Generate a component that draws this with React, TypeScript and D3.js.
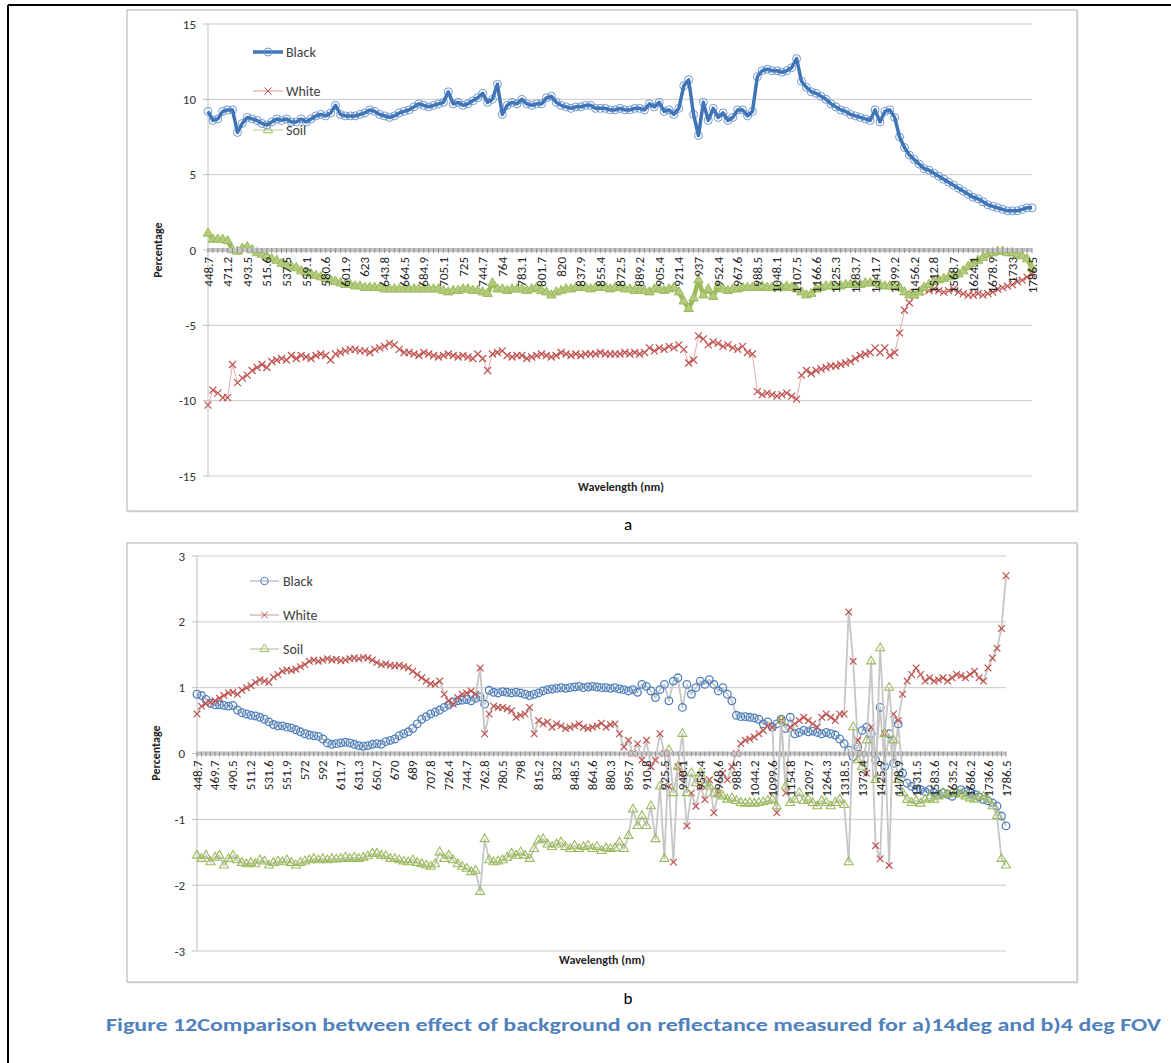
import React, { useEffect, useRef } from 'react';
import * as d3 from 'd3';

const labelsA = ["448.7","471.2","493.5","515.6","537.5","559.1","580.6","601.9","623","643.8","664.5","684.9","705.1","725","744.7","764","783.1","801.7","820","837.9","855.4","872.5","889.2","905.4","921.4","937","952.4","967.6","988.5","1048.1","1107.5","1166.6","1225.3","1283.7","1341.7","1399.2","1456.2","1512.8","1568.7","1624.1","1678.9","1733","1786.5"];

const blackA = [
  9.2, 8.6, 8.7, 9.2,
  9.3, 9.3, 7.8, 8.4,
  8.8, 8.7, 8.6, 8.4,
  8.3, 8.5, 8.7, 8.6,
  8.7, 8.5, 8.5, 8.7,
  8.5, 8.7, 8.9, 9.0,
  8.9, 9.1, 9.6, 9.0,
  8.9, 8.9, 8.9, 9.0,
  9.1, 9.3, 9.2, 9.0,
  8.9, 8.8, 8.9, 9.1,
  9.2, 9.3, 9.5, 9.7,
  9.6, 9.5, 9.6, 9.7,
  9.8, 10.5, 9.7, 9.8,
  9.6, 9.7, 9.9, 10.1,
  10.4, 9.8, 10.0, 11.0,
  9.0, 9.6, 9.8, 9.7,
  10.0, 9.7, 9.6, 9.7,
  9.7, 10.1, 10.2, 9.8,
  9.6, 9.5, 9.4, 9.5,
  9.5, 9.6, 9.6, 9.4,
  9.4, 9.4, 9.3, 9.3,
  9.4, 9.3, 9.3, 9.4,
  9.4, 9.3, 9.7, 9.5,
  9.8, 9.2, 9.3, 9.0,
  9.4, 10.9, 11.3, 9.0,
  7.6, 9.8, 8.6, 9.4,
  8.8, 9.1, 8.6, 8.8,
  9.3, 9.3, 8.9, 9.2,
  11.5, 11.9, 12.0, 11.9,
  11.9, 11.8, 11.9, 12.1,
  12.7, 11.2, 10.8, 10.5,
  10.4, 10.2, 10.0, 9.7,
  9.5, 9.3, 9.2, 9.0,
  8.9, 8.8, 8.7, 8.6,
  9.3, 8.5, 9.2, 9.3,
  8.8, 7.5, 6.8, 6.3,
  6.0, 5.7, 5.4, 5.3,
  5.1, 4.9, 4.7, 4.5,
  4.3, 4.1, 3.9, 3.7,
  3.5, 3.4, 3.2, 3.0,
  2.9, 2.8, 2.7, 2.6,
  2.6, 2.6, 2.7, 2.8,
  2.8
];

const whiteA = [
  -10.3, -9.3, -9.5, -9.8,
  -9.8, -7.6, -8.8, -8.5,
  -8.3, -8.0, -7.8, -7.6,
  -7.8, -7.4, -7.3, -7.2,
  -7.3, -7.0, -7.2, -7.0,
  -7.1, -7.2, -7.0, -6.9,
  -7.0, -7.3, -6.9, -6.8,
  -6.7, -6.6, -6.6, -6.7,
  -6.7, -6.8, -6.6, -6.5,
  -6.4, -6.2, -6.3, -6.6,
  -6.8, -6.8, -6.9, -7.0,
  -6.8, -6.9, -7.0, -7.1,
  -7.0, -6.9, -7.0, -7.1,
  -7.0, -7.1, -7.2, -6.9,
  -7.2, -8.0, -6.9, -6.8,
  -6.7, -7.0, -7.1, -7.0,
  -7.0, -7.2, -7.1, -7.0,
  -6.9, -7.0, -7.1, -7.0,
  -6.8, -6.9, -7.0, -6.9,
  -7.0, -6.9, -6.9, -6.9,
  -6.8, -6.9, -6.9, -6.9,
  -6.9, -6.8, -6.9, -6.8,
  -6.9, -6.8, -6.5, -6.7,
  -6.5, -6.6, -6.4, -6.5,
  -6.3, -6.6, -7.5, -7.3,
  -5.7, -5.9, -6.3, -6.1,
  -6.2, -6.4, -6.3, -6.5,
  -6.6, -6.4, -6.8, -6.9,
  -9.4, -9.6, -9.5, -9.6,
  -9.7, -9.6, -9.5, -9.7,
  -9.9, -8.3, -8.0, -8.2,
  -8.0, -7.9, -7.8, -7.7,
  -7.7, -7.6, -7.5, -7.4,
  -7.2, -7.0, -6.9, -6.8,
  -6.5, -6.8, -6.5, -7.0,
  -6.8, -5.5, -4.0, -3.5,
  -3.0, -2.8, -2.6, -2.7,
  -2.6, -2.7, -2.8, -2.7,
  -2.6, -2.8, -2.9, -3.0,
  -3.0, -2.9, -3.0, -2.9,
  -2.8, -2.6, -2.5, -2.4,
  -2.3, -2.1, -2.0, -1.8,
  -1.6
];

const soilA = [
  1.1, 0.7, 0.7, 0.7,
  0.6, 0.0, -0.1, 0.1,
  0.2, 0.0, -0.2, -0.3,
  -0.4, -0.6, -0.7, -0.9,
  -1.0, -1.1, -1.2, -1.4,
  -1.5, -1.6, -1.7, -1.8,
  -1.9, -2.0, -2.1, -2.2,
  -2.3, -2.3, -2.4, -2.4,
  -2.5, -2.5, -2.5, -2.5,
  -2.6, -2.6, -2.6, -2.6,
  -2.6, -2.6, -2.6, -2.6,
  -2.6, -2.6, -2.6, -2.6,
  -2.7, -2.8, -2.7, -2.7,
  -2.6, -2.6, -2.7, -2.7,
  -2.8, -2.9, -2.2, -2.6,
  -2.6, -2.7, -2.6, -2.6,
  -2.6, -2.7, -2.6, -2.5,
  -2.7, -2.8, -3.0, -2.8,
  -2.7, -2.6, -2.6, -2.5,
  -2.5, -2.5, -2.6, -2.5,
  -2.5, -2.5, -2.6, -2.5,
  -2.5, -2.6, -2.6, -2.7,
  -2.6, -2.7, -2.8, -2.6,
  -2.6, -2.7, -2.6, -2.5,
  -2.8, -3.4, -3.9, -3.2,
  -2.0, -3.0, -2.6, -3.1,
  -2.4, -2.6, -2.7, -2.6,
  -2.6, -2.5, -2.5, -2.5,
  -2.5, -2.4, -2.5, -2.5,
  -2.5, -2.5, -2.4, -2.5,
  -2.6, -2.8, -3.0, -2.9,
  -2.6, -2.5, -2.4, -2.4,
  -2.4, -2.4, -2.3, -2.3,
  -2.3, -2.3, -2.2, -2.2,
  -2.2, -2.3, -2.4, -2.4,
  -2.4, -2.5, -2.8, -3.0,
  -3.0, -2.8, -2.5, -2.3,
  -2.1, -2.0, -1.9, -1.8,
  -1.7, -1.6, -1.4, -1.1,
  -0.9, -0.7, -0.5, -0.3,
  -0.2, -0.1, -0.1, -0.2,
  -0.2, -0.3, -0.4, -0.6,
  -1.2
];

const labelsB = ["448.7","469.7","490.5","511.2","531.6","551.9","572","592","611.7","631.3","650.7","670","689","707.8","726.4","744.7","762.8","780.5","798","815.2","832","848.5","864.6","880.3","895.7","910.8","925.5","940.1","954.4","968.6","988.5","1044.2","1099.6","1154.8","1209.7","1264.3","1318.5","1372.4","1425.9","1478.9","1531.5","1583.6","1635.2","1686.2","1736.6","1786.5"];

const blackB = [
  0.9, 0.88, 0.82, 0.76,
  0.74, 0.74, 0.73, 0.72,
  0.73, 0.66, 0.62, 0.6,
  0.58, 0.57, 0.55, 0.52,
  0.48, 0.44, 0.42, 0.42,
  0.4, 0.39, 0.36, 0.33,
  0.3, 0.28, 0.27, 0.26,
  0.22, 0.16, 0.14, 0.15,
  0.16, 0.17, 0.16, 0.14,
  0.12, 0.11, 0.12, 0.14,
  0.15, 0.14, 0.18, 0.2,
  0.22, 0.27, 0.3, 0.33,
  0.38, 0.45, 0.52, 0.56,
  0.6, 0.63, 0.66, 0.7,
  0.74, 0.78, 0.8, 0.81,
  0.82, 0.8, 0.84, 0.86,
  0.75, 0.96, 0.93, 0.92,
  0.94, 0.93, 0.92, 0.93,
  0.92, 0.9, 0.88, 0.9,
  0.92, 0.95, 0.97, 0.98,
  0.99, 1.0, 0.99, 1.0,
  1.01, 1.02, 1.0, 1.01,
  1.02, 1.01, 1.0, 1.0,
  0.99, 1.0, 0.98, 0.97,
  0.95, 0.97, 0.93, 1.05,
  1.02, 0.95, 0.85, 0.97,
  1.05, 0.8, 1.1, 1.15,
  0.7, 1.05, 0.9, 1.0,
  1.1, 1.05, 1.12, 1.05,
  0.95, 1.0, 0.9, 0.8,
  0.58, 0.56, 0.56, 0.55,
  0.54, 0.52, 0.45, 0.48,
  0.4, 0.45, 0.52, 0.38,
  0.55, 0.3, 0.32, 0.35,
  0.33, 0.34, 0.32, 0.3,
  0.32, 0.3, 0.28, 0.22,
  0.15, 0.05, -0.05, 0.1,
  0.35, 0.4, 0.3, -0.1,
  0.7, -0.2, 0.3, -0.15,
  0.45, -0.3, -0.45, -0.5,
  -0.55, -0.55, -0.58, -0.55,
  -0.6, -0.62, -0.6, -0.62,
  -0.65, -0.6, -0.55, -0.58,
  -0.6, -0.62, -0.66, -0.7,
  -0.72, -0.75, -0.8, -0.95,
  -1.1
];

const whiteB = [
  0.6, 0.72, 0.76, 0.78,
  0.8, 0.84, 0.88, 0.92,
  0.93, 0.9, 0.96, 1.0,
  1.03, 1.08, 1.12, 1.1,
  1.08, 1.16, 1.2, 1.25,
  1.27, 1.26, 1.28, 1.32,
  1.35, 1.4, 1.42, 1.4,
  1.42, 1.44, 1.42, 1.43,
  1.41, 1.42, 1.44, 1.45,
  1.44, 1.46, 1.45, 1.42,
  1.38, 1.35, 1.36, 1.34,
  1.33, 1.34, 1.32, 1.3,
  1.25, 1.2, 1.15, 1.1,
  1.06, 1.05, 1.1, 0.9,
  0.8, 0.75, 0.85, 0.9,
  0.92, 0.95, 0.9, 1.3,
  0.3, 0.6, 0.72, 0.7,
  0.7, 0.68, 0.65, 0.55,
  0.58, 0.6, 0.7, 0.3,
  0.5, 0.45, 0.48, 0.4,
  0.45, 0.42, 0.38, 0.4,
  0.42, 0.45, 0.4, 0.38,
  0.4, 0.42, 0.46, 0.4,
  0.44, 0.45, 0.3, 0.1,
  0.2, 0.0, 0.15, -0.1,
  0.2, -0.2, -0.1, 0.3,
  0.0, -0.5, -1.65, -0.2,
  -0.3, -1.1, -0.6, -0.8,
  -0.5, -0.7, -0.4, -0.9,
  -0.6, -0.3, -0.4, -0.2,
  0.0, 0.15, 0.2, 0.22,
  0.25, 0.3, 0.35, 0.42,
  0.4, -0.9, 0.5, -0.6,
  0.4, 0.45, 0.5, 0.55,
  0.5, 0.45, 0.4, 0.55,
  0.6, 0.55, 0.5, 0.6,
  0.6, 2.15, 1.4, 0.2,
  0.0, -0.3, 0.4, -1.4,
  -1.6, 0.3, -1.7, 0.6,
  0.5, 0.9, 1.1, 1.2,
  1.3, 1.2, 1.1, 1.15,
  1.1, 1.12, 1.15, 1.1,
  1.15, 1.2, 1.18, 1.15,
  1.2, 1.25, 1.15, 1.1,
  1.3, 1.45, 1.6, 1.9,
  2.7
];

const soilB = [
  -1.55, -1.6, -1.55, -1.65,
  -1.58, -1.55, -1.7, -1.6,
  -1.55, -1.62, -1.66, -1.68,
  -1.66, -1.68, -1.62, -1.64,
  -1.7, -1.66, -1.64, -1.65,
  -1.62, -1.66, -1.7, -1.66,
  -1.64, -1.62, -1.6, -1.62,
  -1.6, -1.62, -1.6, -1.61,
  -1.6, -1.58, -1.6, -1.58,
  -1.6, -1.58, -1.56, -1.52,
  -1.52, -1.55, -1.56, -1.6,
  -1.6, -1.62, -1.64, -1.65,
  -1.62, -1.66, -1.68, -1.7,
  -1.72, -1.68, -1.5, -1.6,
  -1.55, -1.62, -1.68, -1.72,
  -1.75, -1.8, -1.78, -2.1,
  -1.3, -1.62, -1.65, -1.64,
  -1.62, -1.58, -1.52, -1.55,
  -1.5, -1.55, -1.6, -1.45,
  -1.32, -1.3, -1.38, -1.42,
  -1.38, -1.35, -1.42, -1.45,
  -1.4, -1.45, -1.42, -1.4,
  -1.45, -1.42, -1.48, -1.44,
  -1.45, -1.44, -1.35, -1.45,
  -1.25, -0.85, -1.1, -0.95,
  -1.1, -0.8, -1.3, -0.5,
  -1.6, 0.05, -0.6, -0.2,
  0.3, -0.6, -0.3, -0.45,
  -0.3, -0.45, -0.5, -0.6,
  -0.62, -0.65, -0.7, -0.68,
  -0.72, -0.75, -0.76, -0.75,
  -0.76, -0.75, -0.74, -0.72,
  -0.7, -0.8, 0.5, -0.5,
  -0.75, -0.7, -0.6, -0.72,
  -0.7, -0.75, -0.8, -0.72,
  -0.75, -0.8, -0.75, -0.7,
  -0.78, -1.65, 0.4, -0.1,
  -0.2, 0.2, 1.4, -0.4,
  1.6, 0.3, 1.0, 0.2,
  -0.4, -0.6, -0.7, -0.75,
  -0.72, -0.76, -0.7, -0.68,
  -0.7, -0.65, -0.6, -0.62,
  -0.6, -0.58, -0.62, -0.65,
  -0.68, -0.7, -0.65, -0.66,
  -0.7, -0.8, -0.95, -1.6,
  -1.7
];

const seriesNames = ["Black", "White", "Soil"];
const captionText = "Figure 12Comparison between effect of  background on reflectance measured for a)14deg and b)4 deg FOV";

const FONT = "Carlito, Calibri, 'Liberation Sans Narrow', 'Liberation Sans', Arial, sans-serif";
const BLUE = "#4f81bd";
const RED = "#c0504d";
const GREEN = "#9bbb59";

type Cfg = {
  frame: [number, number, number, number];
  plot: { l: number; r: number; t: number; b: number };
  domain: [number, number];
  step: number;
  labels: string[];
  data: number[][];
  legend: { x0: number; x1: number; tx: number; ys: number[] };
  yTitle: [number, number];
  xTitle: [number, number];
  variant: 'a' | 'b';
};

function drawMarker(g: any, kind: string, x: number, y: number, stroke: string, fill: string, r: number, sw: number) {
  if (kind === 'circle') {
    g.append('circle').attr('cx', x).attr('cy', y).attr('r', r)
      .attr('fill', fill).attr('stroke', stroke).attr('stroke-width', sw);
  } else if (kind === 'cross') {
    const s = r;
    g.append('path').attr('d', `M${x - s},${y - s}L${x + s},${y + s}M${x - s},${y + s}L${x + s},${y - s}`)
      .attr('stroke', stroke).attr('stroke-width', sw).attr('fill', 'none');
  } else {
    g.append('path').attr('d', d3.symbol(d3.symbolTriangle, r * r * 3)() as string)
      .attr('transform', `translate(${x},${y})`)
      .attr('fill', fill).attr('stroke', stroke).attr('stroke-width', sw);
  }
}

function drawChart(svg: any, c: Cfg) {
  const g = svg.append('g');
  const [fx0, fy0, fx1, fy1] = c.frame;
  g.append('rect').attr('x', fx0 + 1.5).attr('y', fy0 + 1.5).attr('width', fx1 - fx0).attr('height', fy1 - fy0)
    .attr('fill', '#e4e4e4');
  g.append('rect').attr('x', fx0).attr('y', fy0).attr('width', fx1 - fx0).attr('height', fy1 - fy0)
    .attr('fill', '#fff').attr('stroke', '#bcbcbc').attr('stroke-width', 1.2);

  const { l, r, t, b } = c.plot;
  const n = c.data[0].length;
  const x = d3.scaleLinear().domain([0, n - 1]).range([l, r]);
  const y = d3.scaleLinear().domain(c.domain).range([b, t]);
  const ticks = d3.range(c.domain[0], c.domain[1] + c.step / 2, c.step);

  g.selectAll('.grid').data(ticks).enter().append('line')
    .attr('x1', l).attr('x2', r).attr('y1', (d: number) => y(d)).attr('y2', (d: number) => y(d))
    .attr('stroke', '#c9c9c9').attr('stroke-width', 1);
  g.append('line').attr('x1', l).attr('x2', l).attr('y1', t).attr('y2', b).attr('stroke', '#bfbfbf');
  g.selectAll('.yt').data(ticks).enter().append('line')
    .attr('x1', l - 5).attr('x2', l).attr('y1', (d: number) => y(d)).attr('y2', (d: number) => y(d))
    .attr('stroke', '#bfbfbf');
  g.selectAll('.yl').data(ticks).enter().append('text')
    .attr('x', l - 12).attr('y', (d: number) => y(d)).attr('text-anchor', 'end')
    .attr('dominant-baseline', 'central').attr('font-family', FONT).attr('font-size', 13)
    .attr('fill', '#333').text((d: number) => String(Math.round(d)));

  g.append('text').attr('transform', `translate(${c.yTitle[0]},${c.yTitle[1]}) rotate(-90)`)
    .attr('text-anchor', 'middle').attr('font-family', FONT).attr('font-size', 12).attr('font-weight', 'bold')
    .attr('fill', '#222').text('Percentage');
  g.append('text').attr('x', c.xTitle[0]).attr('y', c.xTitle[1]).attr('text-anchor', 'middle')
    .attr('font-family', FONT).attr('font-size', 12).attr('font-weight', 'bold').attr('fill', '#222')
    .text('Wavelength (nm)');

  const kinds = ['circle', 'cross', 'triangle'];
  const isA = c.variant === 'a';
  const markerStroke = isA ? ['#7099cf', RED, GREEN] : [BLUE, RED, GREEN];
  const fills = isA ? ['none', 'none', '#b3cb7f'] : ['none', 'none', 'none'];
  const sizes = isA ? [4, 3.5, 3.6] : [3.8, 3.3, 3.4];
  const sws = isA ? [1, 1.2, 1] : [1.3, 1.2, 1.1];
  const lineColors = isA ? ['#3f74b8', '#e3aaa9', GREEN] : ['#c6c6c6', '#c6c6c6', '#c6c6c6'];
  const lineWidths = isA ? [3.5, 1, 4.5] : [1.8, 1.8, 1.8];
  const legLineColors = isA ? ['#3f74b8', '#e3aaa9', '#c3d69b'] : ['#b8c4d4', '#d6bcbc', '#c8d2b4'];
  const legLineWidths = isA ? [3.5, 1.2, 1.2] : [1.5, 1.5, 1.5];

  const lg = g.append('g');
  seriesNames.forEach((name, i) => {
    const ly = c.legend.ys[i];
    lg.append('line').attr('x1', c.legend.x0).attr('x2', c.legend.x1).attr('y1', ly).attr('y2', ly)
      .attr('stroke', legLineColors[i]).attr('stroke-width', legLineWidths[i]);
    drawMarker(lg, kinds[i], (c.legend.x0 + c.legend.x1) / 2, ly, markerStroke[i], i === 2 ? 'none' : fills[i], sizes[i], 1);
    lg.append('text').attr('x', c.legend.tx).attr('y', ly).attr('dominant-baseline', 'central')
      .attr('font-family', FONT).attr('font-size', 14).attr('fill', '#404040').text(name);
  });

  c.data.forEach((vals, si) => {
    const sg = g.append('g');
    const line = d3.line<number>().x((_, i) => x(i)).y(v => y(v));
    if (!isA || si !== 0) {
      sg.append('path').attr('d', line(vals) as string).attr('fill', 'none')
        .attr('stroke', lineColors[si]).attr('stroke-width', lineWidths[si]).attr('stroke-linejoin', 'round');
    }
    vals.forEach((v, i) => drawMarker(sg, kinds[si], x(i), y(v), markerStroke[si], fills[si], sizes[si], sws[si]));
    if (isA && si === 0) {
      sg.append('path').attr('d', line(vals) as string).attr('fill', 'none')
        .attr('stroke', lineColors[si]).attr('stroke-width', lineWidths[si]).attr('stroke-linejoin', 'round');
    }
  });

  const y0 = y(0);
  g.append('line').attr('x1', l).attr('x2', r).attr('y1', y0).attr('y2', y0)
    .attr('stroke', '#c4c4c4').attr('stroke-width', 4);
  g.selectAll('.xt').data(d3.range(n)).enter().append('line')
    .attr('x1', (d: number) => x(d)).attr('x2', (d: number) => x(d))
    .attr('y1', y0 - 2).attr('y2', y0 + 3).attr('stroke', '#8f8f8f').attr('stroke-width', 1);
  const li = (i: number) => i * (n - 1) / (c.labels.length - 1);
  g.selectAll('.xl').data(c.labels).enter().append('text')
    .attr('transform', (_: string, i: number) => `translate(${x(li(i))},${y0 + 7}) rotate(-90)`)
    .attr('text-anchor', 'end').attr('dominant-baseline', 'central')
    .attr('font-family', FONT).attr('font-size', 13).attr('fill', '#262626')
    .text((d: string) => d);
}

export default function App() {
  const ref = useRef<SVGSVGElement>(null);
  useEffect(() => {
    const svg = d3.select(ref.current);
    svg.selectAll('*').remove();
    svg.append('rect').attr('x', 0).attr('y', 0).attr('width', 1171).attr('height', 1063).attr('fill', '#fff');
    svg.append('line').attr('x1', 8).attr('x2', 1171).attr('y1', 5).attr('y2', 5).attr('stroke', '#000').attr('stroke-width', 2);
    svg.append('line').attr('x1', 8).attr('x2', 8).attr('y1', 5).attr('y2', 1063).attr('stroke', '#000').attr('stroke-width', 2);

    drawChart(svg, {
      frame: [127, 10, 1077, 511],
      plot: { l: 208, r: 1032, t: 24, b: 476 },
      domain: [-15, 15], step: 5,
      labels: labelsA,
      data: [blackA, whiteA, soilA],
      legend: { x0: 253, x1: 283, tx: 286, ys: [52, 91, 130] },
      yTitle: [162, 250], xTitle: [621, 491],
      variant: 'a',
    });
    drawChart(svg, {
      frame: [127, 543, 1077, 982],
      plot: { l: 197, r: 1006, t: 556, b: 951 },
      domain: [-3, 3], step: 1,
      labels: labelsB,
      data: [blackB, whiteB, soilB],
      legend: { x0: 250, x1: 279, tx: 283, ys: [581, 615, 649] },
      yTitle: [160, 753], xTitle: [602, 964],
      variant: 'b',
    });

    svg.append('text').attr('x', 628).attr('y', 530).attr('text-anchor', 'middle')
      .attr('font-family', FONT).attr('font-size', 17).attr('fill', '#000').text('a');
    svg.append('text').attr('x', 628).attr('y', 1004).attr('text-anchor', 'middle')
      .attr('font-family', FONT).attr('font-size', 17).attr('fill', '#000').text('b');
    svg.append('text').attr('x', 106).attr('y', 1031).attr('font-family', FONT).attr('font-size', 18)
      .attr('font-weight', 'bold').attr('fill', BLUE).attr('textLength', 1055)
      .attr('lengthAdjust', 'spacingAndGlyphs').text(captionText);
  }, []);
  return <svg ref={ref} width={1171} height={1063} style={{ position: 'absolute', left: 0, top: 0 }} />;
}
